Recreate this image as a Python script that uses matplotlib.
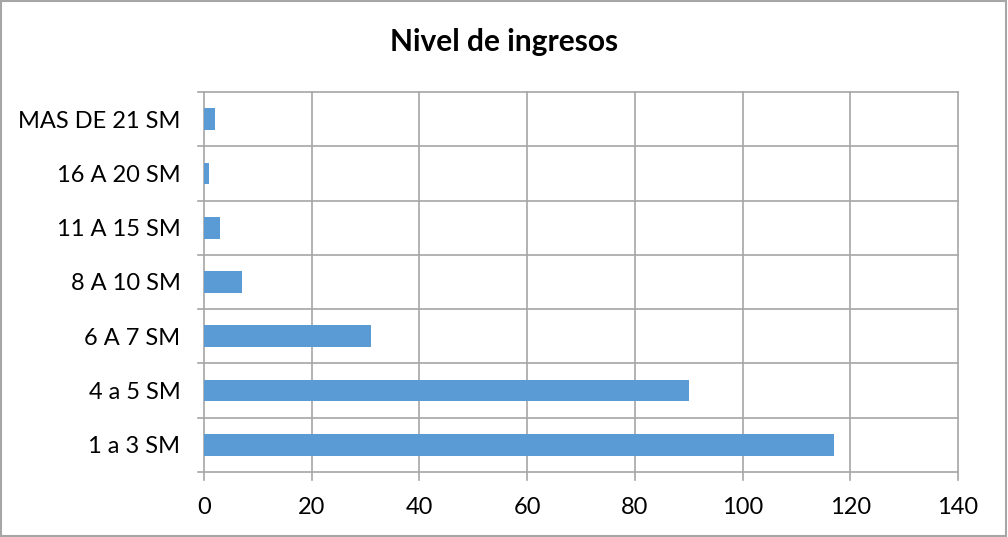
import matplotlib
matplotlib.use("Agg")
import matplotlib.pyplot as plt
from matplotlib.patches import Rectangle

categories = ["1 a 3 SM", "4 a 5 SM", "6 A 7 SM", "8 A 10 SM", "11 A 15 SM", "16 A 20 SM", "MAS DE 21 SM"]
values = [117, 90, 31, 7, 3, 1, 2]
xticks = [0, 20, 40, 60, 80, 100, 120, 140]
title = "Nivel de ingresos"

plt.rcParams['font.family'] = ['Lato', 'DejaVu Sans']

fig = plt.figure(figsize=(10.08, 5.37), dpi=100)
ax = fig.add_axes([204/1008, 1 - 472/537, (958 - 204)/1008, (472 - 92)/537])

n = len(categories)
ypos = list(range(n))
ax.barh(ypos, values, height=0.4, color="#5b9bd5", zorder=3)
ax.set_xlim(0, 140)
ax.set_ylim(-0.5, n - 0.5)
ax.set_xticks(xticks)
ax.set_xticklabels([str(v) for v in xticks], fontsize=17)
ax.set_yticks(ypos)
ax.set_yticklabels(categories, fontsize=17)
ax.tick_params(axis='y', length=0, pad=17)
ax.tick_params(axis='x', length=0, pad=18)

grid_c = "#a6a6a6"
for v in xticks:
    ax.plot([v, v], [-0.5 - 0.15, n - 0.5], color=grid_c, lw=1.2, zorder=1, clip_on=False)
for b in range(n + 1):
    ax.plot([-1.2, 140], [b - 0.5, b - 0.5], color=grid_c, lw=1.2, zorder=1, clip_on=False)

for s in ax.spines.values():
    s.set_visible(False)

fig.text(0.5, 1 - 42/537, title, ha='center', va='center', fontsize=21.5, fontweight='bold')

fig.add_artist(Rectangle((0.001, 0.001), 0.997, 0.997, transform=fig.transFigure,
                         fill=False, edgecolor="#a6a6a6", lw=1.5))

fig.savefig("out.png", dpi=100)
